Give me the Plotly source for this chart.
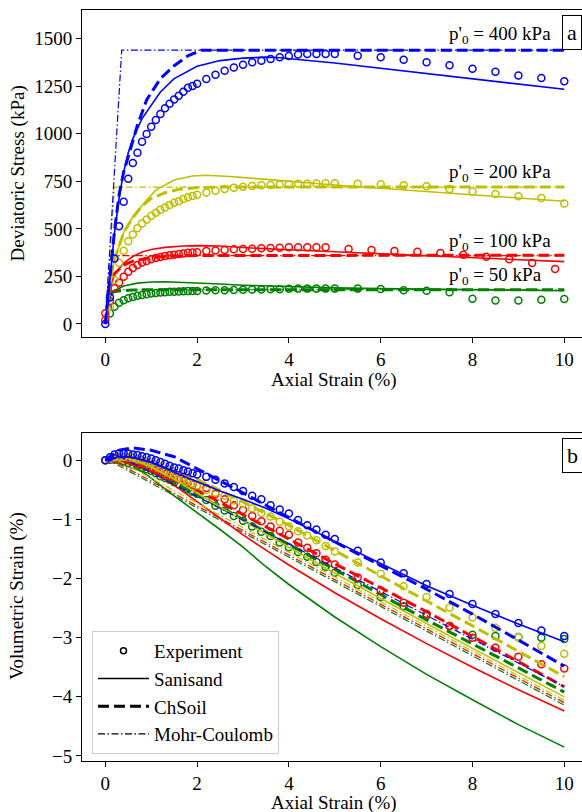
import plotly.graph_objects as go

# ---------------- DATA ----------------
BLUE, YEL, RED, GRN = "#0000ff", "#bfbf00", "#ff0000", "#008000"

# Experiment x grids
x_exp_a = [0, 0.1, 0.2, 0.3, 0.4, 0.5, 0.6, 0.7, 0.8, 0.9, 1.0, 1.1, 1.2, 1.3, 1.4, 1.5, 1.6, 1.7, 1.8, 1.9, 2.0,
           2.2, 2.4, 2.6, 2.8, 3.0, 3.2, 3.4, 3.6, 3.8, 4.0, 4.2, 4.4, 4.6, 4.8, 5.0,
           5.5, 6.0, 6.5, 7.0, 7.5, 8.0, 8.5, 9.0, 9.5, 10.0]
x_exp_y = x_exp_a[1:]
x_exp_red_q = [0, 0, 0.1, 0.2, 0.3, 0.4, 0.5, 0.6, 0.7, 0.8, 0.9, 1.0, 1.1, 1.2, 1.3, 1.4, 1.5, 1.6, 1.7, 1.8, 1.9, 2.0,
               2.2, 2.4, 2.6, 2.8, 3.0, 3.2, 3.4, 3.6, 3.8, 4.0, 4.2, 4.4, 4.6, 4.8,
               5.3, 5.8, 6.3, 6.8, 7.3, 7.8, 8.3, 8.8, 9.3, 9.8]
x_exp_g = x_exp_a[1:]

# Deviatoric stress, experiments (kPa)
q_exp_400 = [0, 140, 345, 514, 643, 764, 846, 901, 958, 999, 1037, 1073, 1104, 1134, 1158, 1181, 1200, 1221, 1242, 1251, 1263,
             1288, 1311, 1332, 1349, 1363, 1376, 1384, 1393, 1402, 1409, 1417, 1420, 1420, 1420, 1420,
             1411, 1402, 1390, 1376, 1360, 1342, 1326, 1307, 1293, 1276]
q_exp_200 = [91, 231, 322, 385, 435, 471, 503, 529, 550, 569, 585, 601, 613, 626, 638, 645, 657, 666, 673, 680,
             692, 701, 710, 717, 722, 726, 730, 731, 733, 735, 737, 738, 739, 740, 740,
             737, 735, 730, 724, 710, 697, 684, 672, 663, 634]
q_exp_100 = [21, 56, 120, 188, 217, 249, 275, 294, 310, 323, 331, 340, 347, 352, 357, 361, 364, 368, 371, 375, 376, 377,
             384, 386, 389, 393, 394, 396, 398, 400, 401, 403, 403, 403, 403, 403,
             394, 389, 384, 380, 373, 364, 354, 340, 321, 289]
q_exp_50 = [55, 91, 112, 125, 135, 142, 148, 153, 157, 160, 163, 165, 167, 169, 170, 171, 172, 173, 174, 174,
            176, 177, 178, 179, 180, 181, 182, 183, 183, 185, 186, 186, 186, 186, 186,
            186, 184, 177, 175, 167, 133, 123, 124, 128, 131]

# Deviatoric stress, models
x_san_400 = [0, 0.1, 0.2, 0.3, 0.4, 0.5, 0.6, 0.8, 1.0, 1.2, 1.5, 2.0, 2.5, 3.0, 3.5, 3.8, 5, 6, 7, 8, 9, 10]
q_san_400 = [0, 250, 480, 660, 800, 900, 975, 1080, 1150, 1220, 1290, 1355, 1385, 1398, 1403, 1400, 1372, 1344, 1316, 1289, 1261, 1234]
x_chs_400 = [0, 0.1, 0.2, 0.3, 0.4, 0.5, 0.7, 0.9, 1.2, 1.5, 1.8, 2.1, 10]
q_chs_400 = [0, 250, 490, 680, 800, 880, 1045, 1178, 1290, 1358, 1410, 1440, 1440]
x_mc_400 = [0, 0.357, 10]
q_mc_400 = [0, 1440, 1440]

x_san_200 = [0, 0.1, 0.2, 0.4, 0.6, 0.9, 1.1, 1.5, 1.9, 2.2, 2.8, 3.5, 4, 5, 6, 7, 8, 9, 10]
q_san_200 = [0, 231, 340, 480, 564, 652, 704, 757, 778, 782, 774, 760, 748, 731, 714, 697, 680, 662, 645]
x_chs_200 = [0, 0.1, 0.2, 0.4, 0.6, 0.8, 1.0, 1.3, 1.6, 2.0, 2.5, 10]
q_chs_200 = [0, 220, 340, 480, 560, 620, 660, 690, 708, 717, 720, 720]
x_mc_200 = [0, 0.2, 10]
q_mc_200 = [0, 720, 720]

x_san_100 = [0, 0.1, 0.2, 0.4, 0.6, 0.8, 1.0, 1.3, 1.7, 2.0, 2.5, 3, 4, 5, 6, 7, 8, 9, 10]
q_san_100 = [0, 190, 260, 320, 355, 378, 392, 403, 410, 412, 410, 402, 390, 380, 369, 359, 349, 338, 328]
x_chs_100 = [0, 0.1, 0.2, 0.4, 0.6, 0.8, 1.0, 1.5, 2.0, 10]
q_chs_100 = [0, 200, 265, 310, 330, 342, 350, 357, 360, 362]
x_mc_100 = [0, 0.1, 10]
q_mc_100 = [0, 360, 360]

x_san_50 = [0, 0.05, 0.1, 0.2, 0.4, 0.7, 1.0, 1.3, 1.8, 2.5, 3, 4, 5, 6, 7, 8, 9, 10]
q_san_50 = [0, 80, 140, 175, 200, 215, 221, 222, 218, 210, 204, 196, 190, 186, 183, 180, 177, 175]
x_chs_50 = [0, 0.1, 0.3, 0.6, 1.0, 10]
q_chs_50 = [0, 165, 174, 179, 180, 180]
x_mc_50 = [0, 0.05, 10]
q_mc_50 = [0, 180, 180]

# Volumetric strain, experiments (%)
ev_exp_400 = [0, 0.05, 0.1, 0.12, 0.12, 0.11, 0.1, 0.09, 0.07, 0.05, 0.03, 0.0, -0.03, -0.06, -0.09, -0.12, -0.14, -0.17, -0.19, -0.22, -0.24,
              -0.28, -0.33, -0.39, -0.45, -0.52, -0.6, -0.66, -0.76, -0.83, -0.9, -1.01, -1.1, -1.17, -1.26, -1.33,
              -1.53, -1.73, -1.91, -2.09, -2.26, -2.43, -2.6, -2.75, -2.88, -2.97]
ev_exp_200 = [0, 0.03, 0.05, 0.06, 0.06, 0.05, 0.04, 0.02, 0.0, -0.03, -0.06, -0.1, -0.14, -0.18, -0.22, -0.25, -0.29, -0.32, -0.36, -0.39, -0.42,
              -0.5, -0.55, -0.6, -0.68, -0.73, -0.81, -0.89, -0.95, -1.04, -1.12, -1.2, -1.27, -1.35, -1.45, -1.54,
              -1.73, -1.92, -2.13, -2.31, -2.49, -2.66, -2.83, -2.99, -3.14, -3.27]
ev_exp_100 = [0, 0.02, 0.03, 0.03, 0.02, 0.0, -0.02, -0.05, -0.08, -0.11, -0.14, -0.17, -0.2, -0.23, -0.26, -0.29, -0.32, -0.35, -0.38, -0.41, -0.43,
              -0.47, -0.57, -0.66, -0.76, -0.84, -0.94, -1.03, -1.12, -1.19, -1.26, -1.39, -1.48, -1.57, -1.68, -1.76,
              -1.98, -2.2, -2.41, -2.6, -2.8, -3.0, -3.17, -3.32, -3.45, -3.52]
ev_exp_50 = [0, 0.01, 0.01, 0.0, -0.02, -0.05, -0.08, -0.1, -0.13, -0.15, -0.18, -0.22, -0.27, -0.3, -0.33, -0.37, -0.41, -0.45, -0.49, -0.53, -0.57,
             -0.67, -0.77, -0.85, -0.94, -1.02, -1.12, -1.21, -1.28, -1.39, -1.47, -1.55, -1.63, -1.72, -1.8, -1.9,
             -2.11, -2.31, -2.47, -2.63, -2.8, -2.95, -2.97, -2.99, -3.0, -3.02]

# Volumetric strain, models
x_m = [0, 0.3, 0.6, 1.0, 1.5, 2.0, 2.5, 3.0, 3.5, 4.0, 5.0, 6.0, 7.0, 8.0, 9.0, 10.0]
ev_san_400 = [0, 0.06, 0.05, -0.04, -0.2, -0.36, -0.52, -0.66, -0.81, -0.99, -1.37, -1.75, -2.12, -2.45, -2.77, -3.07]
ev_chs_400 = [0, 0.17, 0.21, 0.17, 0.06, -0.14, -0.34, -0.55, -0.76, -0.97, -1.38, -1.78, -2.18, -2.6, -3.04, -3.48]
ev_san_200 = [0, 0.04, 0.02, -0.1, -0.32, -0.56, -0.79, -1.02, -1.25, -1.47, -1.91, -2.34, -2.76, -3.18, -3.59, -4.0]
ev_chs_200 = [0, 0.07, 0.08, 0.0, -0.15, -0.32, -0.51, -0.7, -0.9, -1.1, -1.53, -1.95, -2.38, -2.8, -3.23, -3.66]
ev_san_100 = [0, 0.02, -0.04, -0.18, -0.42, -0.7, -0.98, -1.26, -1.52, -1.77, -2.24, -2.68, -3.1, -3.5, -3.88, -4.24]
ev_chs_100 = [0, 0.04, 0.02, -0.1, -0.3, -0.5, -0.71, -0.92, -1.12, -1.33, -1.75, -2.15, -2.56, -2.98, -3.4, -3.83]
ev_san_50 = [0, 0.0, -0.08, -0.3, -0.6, -0.88, -1.17, -1.47, -1.8, -2.1, -2.65, -3.15, -3.62, -4.05, -4.47, -4.85]
ev_chs_50 = [0, 0.01, -0.05, -0.18, -0.38, -0.58, -0.79, -1.0, -1.21, -1.42, -1.84, -2.27, -2.7, -3.1, -3.51, -3.92]
x_mc_ev_400, ev_mc_400 = [0, 0.357, 10], [0, 0.05, -3.83]
x_mc_ev_200, ev_mc_200 = [0, 0.2, 10], [0, 0.03, -4.06]
x_mc_ev_100, ev_mc_100 = [0, 0.1, 10], [0, 0.02, -4.1]
x_mc_ev_50, ev_mc_50 = [0, 0.05, 10], [0, 0.01, -4.14]

pressure_labels = ["p'<sub>0</sub> = 400 kPa", "p'<sub>0</sub> = 200 kPa",
                   "p'<sub>0</sub> = 100 kPa", "p'<sub>0</sub> = 50 kPa"]
label_y = [1519, 794, 433, 252]
legend_names = ["Experiment", "Sanisand", "ChSoil", "Mohr-Coulomb"]

# ---------------- STYLE ----------------
FONT = "Liberation Serif, Times New Roman, serif"
W_SAN, W_CHS, W_MC = 1.6, 3.0, 1.2
D_CHS = "11px,5px"
D_MC = "7px,2.5px,1.5px,2.5px"

fig = go.Figure()

def exp(x, y, c, ax):
    fig.add_trace(go.Scatter(x=x, y=y, mode="markers", xaxis=ax[0], yaxis=ax[1], showlegend=False,
                             marker=dict(symbol="circle-open", size=7, color=c, line=dict(width=1.5, color=c))))

def line(x, y, c, w, d, ax):
    fig.add_trace(go.Scatter(x=x, y=y, mode="lines", xaxis=ax[0], yaxis=ax[1], showlegend=False,
                             line=dict(color=c, width=w, dash=d)))

A = ("x", "y")
B = ("x2", "y2")

groups_q = [
    (GRN, x_exp_g, q_exp_50, x_san_50, q_san_50, x_chs_50, q_chs_50, x_mc_50, q_mc_50),
    (RED, x_exp_red_q, q_exp_100, x_san_100, q_san_100, x_chs_100, q_chs_100, x_mc_100, q_mc_100),
    (YEL, x_exp_y, q_exp_200, x_san_200, q_san_200, x_chs_200, q_chs_200, x_mc_200, q_mc_200),
    (BLUE, x_exp_a, q_exp_400, x_san_400, q_san_400, x_chs_400, q_chs_400, x_mc_400, q_mc_400),
]
for c, xe, ye, xs, ys, xc, yc, xmc, ymc in groups_q:
    exp(xe, ye, c, A)
    line(xs, ys, c, W_SAN, "solid", A)
    line(xc, yc, c, W_CHS, D_CHS, A)
    line(xmc, ymc, c, W_MC, D_MC, A)

groups_v = [
    (GRN, x_exp_a, ev_exp_50, ev_san_50, ev_chs_50, x_mc_ev_50, ev_mc_50),
    (RED, x_exp_a, ev_exp_100, ev_san_100, ev_chs_100, x_mc_ev_100, ev_mc_100),
    (YEL, x_exp_a, ev_exp_200, ev_san_200, ev_chs_200, x_mc_ev_200, ev_mc_200),
    (BLUE, x_exp_a, ev_exp_400, ev_san_400, ev_chs_400, x_mc_ev_400, ev_mc_400),
]
for c, xe, ye, ys, yc, xmc, ymc in groups_v:
    exp(xe, ye, c, B)
    line(x_m, ys, c, W_SAN, "solid", B)
    line(x_m, yc, c, W_CHS, D_CHS, B)
    line(xmc, ymc, c, W_MC, D_MC, B)

# legend entries
fig.add_trace(go.Scatter(x=[None], y=[None], mode="markers", name=legend_names[0], xaxis="x2", yaxis="y2",
                         marker=dict(symbol="circle-open", size=6, color="black", line=dict(width=1.5, color="black"))))
fig.add_trace(go.Scatter(x=[None], y=[None], mode="lines", name=legend_names[1], xaxis="x2", yaxis="y2",
                         line=dict(color="black", width=W_SAN)))
fig.add_trace(go.Scatter(x=[None], y=[None], mode="lines", name=legend_names[2], xaxis="x2", yaxis="y2",
                         line=dict(color="black", width=W_CHS, dash=D_CHS)))
fig.add_trace(go.Scatter(x=[None], y=[None], mode="lines", name=legend_names[3], xaxis="x2", yaxis="y2",
                         line=dict(color="black", width=W_MC, dash=D_MC)))

ML, MR, MT, MB = 82, 0, 10, 51
PW, PH = 582 - ML - MR, 812 - MT - MB

def px(xp):
    return (xp - ML) / PW

def py(yp):
    return (812 - MB - yp) / PH

tick = dict(ticks="outside", ticklen=5, tickwidth=1, tickcolor="black", showgrid=False, zeroline=False,
            showline=True, linecolor="black", linewidth=1, tickfont=dict(family=FONT, size=19, color="black"))

fig.update_layout(
    width=582, height=812, margin=dict(l=ML, r=MR, t=MT, b=MB),
    paper_bgcolor="white", plot_bgcolor="white",
    font=dict(family=FONT, size=19, color="black"),
    xaxis=dict(domain=[0, 1], anchor="y", range=[-0.508, 10.386], tickvals=[0, 2, 4, 6, 8, 10], mirror=True, **tick),
    yaxis=dict(domain=[py(337), 1.0], anchor="x", range=[-68.4, 1651], tickvals=[0, 250, 500, 750, 1000, 1250, 1500], **tick),
    xaxis2=dict(domain=[0, 1], anchor="y2", range=[-0.508, 10.386], tickvals=[0, 2, 4, 6, 8, 10], mirror=True, **tick),
    yaxis2=dict(domain=[0, py(432.7)], anchor="x2", range=[-5.085, 0.467], tickvals=[0, -1, -2, -3, -4, -5], **tick),
    showlegend=True,
    legend=dict(x=px(92), y=py(631), xanchor="left", yanchor="top", bgcolor="rgba(255,255,255,0.85)",
                bordercolor="#cccccc", borderwidth=1, itemwidth=51, font=dict(family=FONT, size=19),
                tracegroupgap=0),
)

ann = []
for t, yv in zip(pressure_labels, label_y):
    ann.append(dict(x=7.44, y=yv, xref="x", yref="y", text=t, showarrow=False, xanchor="left", yanchor="middle",
                    font=dict(family=FONT, size=19, color="black")))
ann.append(dict(x=px(572), y=py(32.5), xref="paper", yref="paper", text="a", showarrow=False, xanchor="center",
                yanchor="middle", bordercolor="black", borderwidth=1, borderpad=4, bgcolor="white",
                font=dict(family=FONT, size=22, color="black")))
ann.append(dict(x=px(572), y=py(455), xref="paper", yref="paper", text="b", showarrow=False, xanchor="center",
                yanchor="middle", bordercolor="black", borderwidth=1, borderpad=4, bgcolor="white",
                font=dict(family=FONT, size=22, color="black")))
ann.append(dict(x=px(334), y=py(380), xref="paper", yref="paper", text="Axial Strain (%)", showarrow=False,
                xanchor="center", yanchor="middle", font=dict(family=FONT, size=19)))
ann.append(dict(x=px(334), y=py(802.5), xref="paper", yref="paper", text="Axial Strain (%)", showarrow=False,
                xanchor="center", yanchor="middle", font=dict(family=FONT, size=19)))
ann.append(dict(x=px(17), y=py(173.5), xref="paper", yref="paper", text="Deviatoric Stress (kPa)", showarrow=False,
                xanchor="center", yanchor="middle", textangle=-90, font=dict(family=FONT, size=19)))
ann.append(dict(x=px(17), y=py(596.7), xref="paper", yref="paper", text="Volumetric Strain (%)", showarrow=False,
                xanchor="center", yanchor="middle", textangle=-90, font=dict(family=FONT, size=19)))
fig.update_layout(annotations=ann)

fig.write_html("out.html")
